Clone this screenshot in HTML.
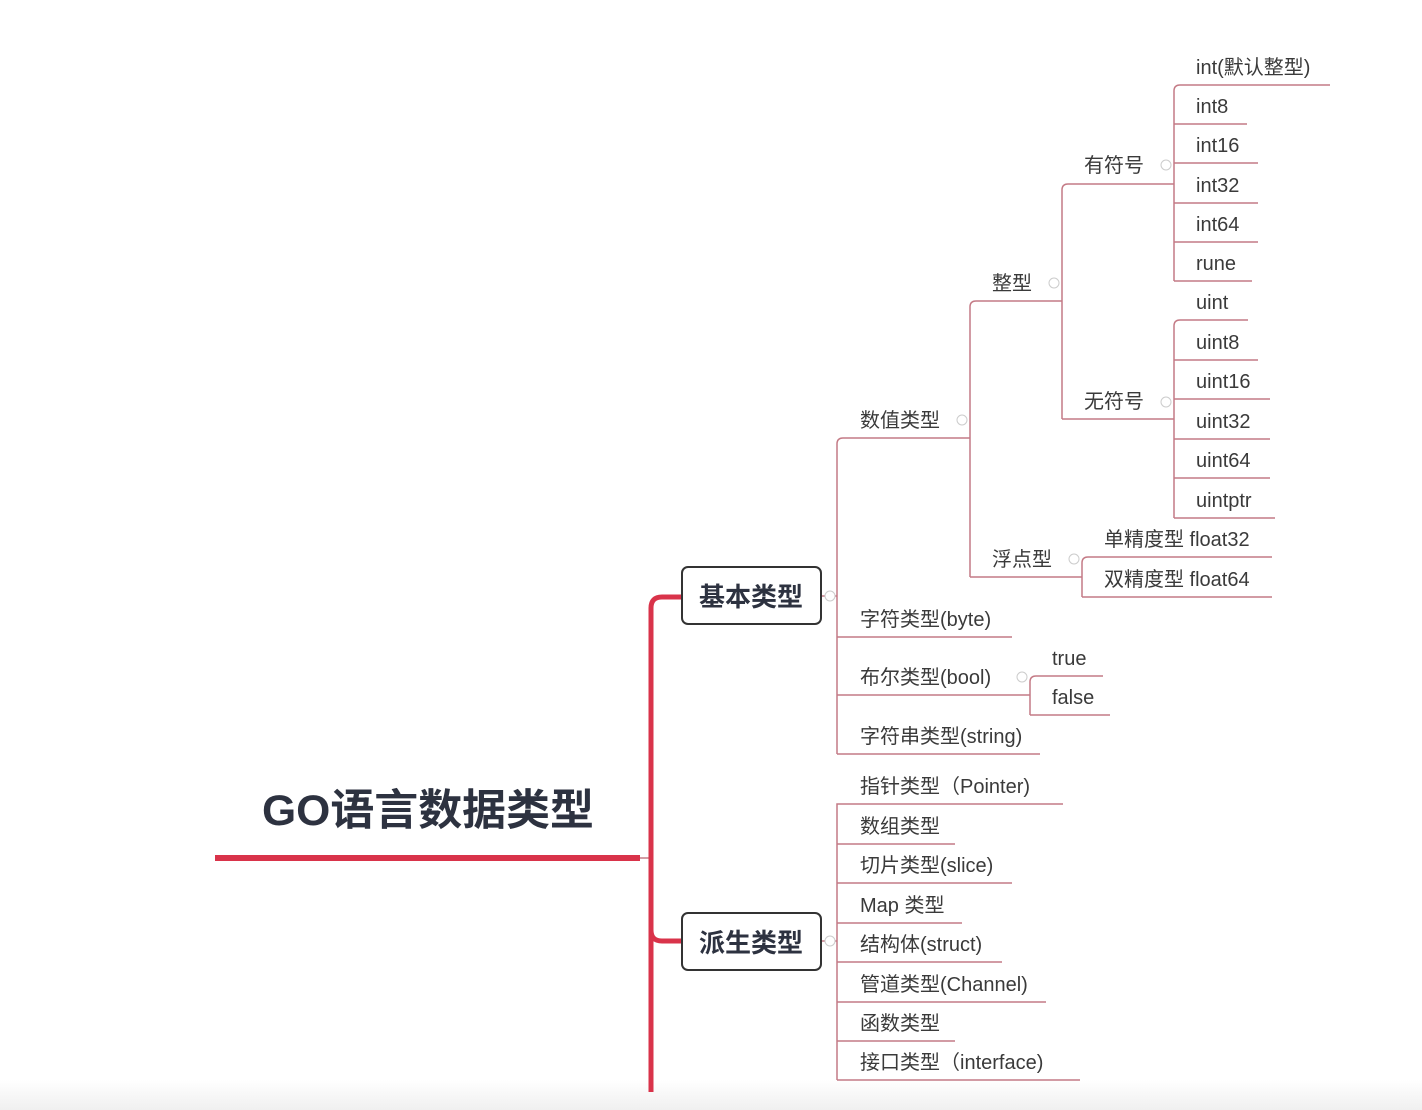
<!DOCTYPE html>
<html><head><meta charset="utf-8"><style>
html,body{margin:0;padding:0;background:#fff;}
svg{display:block;}
text{font-family:"Liberation Sans","Noto Sans CJK SC",sans-serif;fill:#3a3a3a;font-size:20px;}
.b{font-weight:bold;fill:#2d3240;}
</style></head><body>
<svg width="1422" height="1110" viewBox="0 0 1422 1110" xmlns="http://www.w3.org/2000/svg">
<defs><linearGradient id="g" x1="0" y1="0" x2="0" y2="1"><stop offset="0" stop-color="#fff"/><stop offset="1" stop-color="#f0f0f0"/></linearGradient></defs>
<rect width="1422" height="1110" fill="#fff"/>
<rect y="1080" width="1422" height="30" fill="url(#g)"/>
<!-- root -->
<text x="428" y="825" class="b" style="font-size:43px" text-anchor="middle" textLength="332" lengthAdjust="spacingAndGlyphs">GO语言数据类型</text>
<rect x="215" y="855" width="425" height="6" fill="#d9334a"/>
<line x1="640" y1="858" x2="651" y2="858" stroke="#c47a85" stroke-width="1.5"/>
<path d="M651 1092 V608 Q651 597 662 597 H681" fill="none" stroke="#d9334a" stroke-width="5"/>
<path d="M651 930 Q651 941 662 941 H681" fill="none" stroke="#d9334a" stroke-width="5"/>
<!-- boxes -->
<rect x="682" y="567" width="139" height="57" rx="6" fill="#fff" stroke="#333" stroke-width="2"/>
<text x="751" y="606" class="b" style="font-size:26px" text-anchor="middle">基本类型</text>
<rect x="682" y="913" width="139" height="57" rx="6" fill="#fff" stroke="#333" stroke-width="2"/>
<text x="751" y="952" class="b" style="font-size:26px" text-anchor="middle">派生类型</text>
<g fill="none" stroke="#c47a85" stroke-width="1.5">
<line x1="822" y1="596" x2="837" y2="596"/>
<line x1="822" y1="941" x2="837" y2="941"/>
<path d="M837 754 V444 Q837 438 843 438 H970"/>
<line x1="837" y1="637" x2="1012" y2="637"/>
<line x1="837" y1="695" x2="1030" y2="695"/>
<line x1="837" y1="754" x2="1040" y2="754"/>
<path d="M837 1080 V804 H1063"/>
<line x1="837" y1="844" x2="955" y2="844"/>
<line x1="837" y1="883" x2="1012" y2="883"/>
<line x1="837" y1="923" x2="962" y2="923"/>
<line x1="837" y1="962" x2="1002" y2="962"/>
<line x1="837" y1="1002" x2="1046" y2="1002"/>
<line x1="837" y1="1041" x2="955" y2="1041"/>
<line x1="837" y1="1080" x2="1080" y2="1080"/>
<path d="M970 577 V307 Q970 301 976 301 H1062"/>
<line x1="970" y1="577" x2="1082" y2="577"/>
<path d="M1062 419 V190 Q1062 184 1068 184 H1174"/>
<line x1="1062" y1="419" x2="1174" y2="419"/>
<path d="M1174 281 V91 Q1174 85 1180 85 H1330"/>
<line x1="1174" y1="124" x2="1247" y2="124"/>
<line x1="1174" y1="163" x2="1258" y2="163"/>
<line x1="1174" y1="203" x2="1258" y2="203"/>
<line x1="1174" y1="242" x2="1258" y2="242"/>
<line x1="1174" y1="281" x2="1252" y2="281"/>
<path d="M1174 518 V326 Q1174 320 1180 320 H1248"/>
<line x1="1174" y1="360" x2="1258" y2="360"/>
<line x1="1174" y1="399" x2="1270" y2="399"/>
<line x1="1174" y1="439" x2="1270" y2="439"/>
<line x1="1174" y1="478" x2="1270" y2="478"/>
<line x1="1174" y1="518" x2="1275" y2="518"/>
<path d="M1082 597 V563 Q1082 557 1088 557 H1272"/>
<line x1="1082" y1="597" x2="1272" y2="597"/>
<path d="M1030 715 V682 Q1030 676 1036 676 H1103"/>
<line x1="1030" y1="715" x2="1110" y2="715"/>
</g>
<g fill="#fff" stroke="#ccc" stroke-width="1">
<circle cx="830" cy="596" r="5"/><circle cx="830" cy="941" r="5"/>
<circle cx="962" cy="420" r="5"/><circle cx="1054" cy="283" r="5"/>
<circle cx="1166" cy="165" r="5"/><circle cx="1166" cy="402" r="5"/>
<circle cx="1074" cy="559" r="5"/><circle cx="1022" cy="677" r="5"/>
</g>
<text x="860" y="427">数值类型</text>
<text x="860" y="626">字符类型(byte)</text>
<text x="860" y="684">布尔类型(bool)</text>
<text x="860" y="743">字符串类型(string)</text>
<text x="860" y="793">指针类型（Pointer)</text>
<text x="860" y="833">数组类型</text>
<text x="860" y="872">切片类型(slice)</text>
<text x="860" y="912">Map 类型</text>
<text x="860" y="951">结构体(struct)</text>
<text x="860" y="991">管道类型(Channel)</text>
<text x="860" y="1030">函数类型</text>
<text x="860" y="1069">接口类型（interface)</text>
<text x="992" y="290">整型</text>
<text x="992" y="566">浮点型</text>
<text x="1084" y="172">有符号</text>
<text x="1084" y="408">无符号</text>
<text x="1196" y="74">int(默认整型)</text>
<text x="1196" y="113">int8</text>
<text x="1196" y="152">int16</text>
<text x="1196" y="192">int32</text>
<text x="1196" y="231">int64</text>
<text x="1196" y="270">rune</text>
<text x="1196" y="309">uint</text>
<text x="1196" y="349">uint8</text>
<text x="1196" y="388">uint16</text>
<text x="1196" y="428">uint32</text>
<text x="1196" y="467">uint64</text>
<text x="1196" y="507">uintptr</text>
<text x="1104" y="546">单精度型 float32</text>
<text x="1104" y="586">双精度型 float64</text>
<text x="1052" y="665">true</text>
<text x="1052" y="704">false</text>
</svg>
</body></html>
